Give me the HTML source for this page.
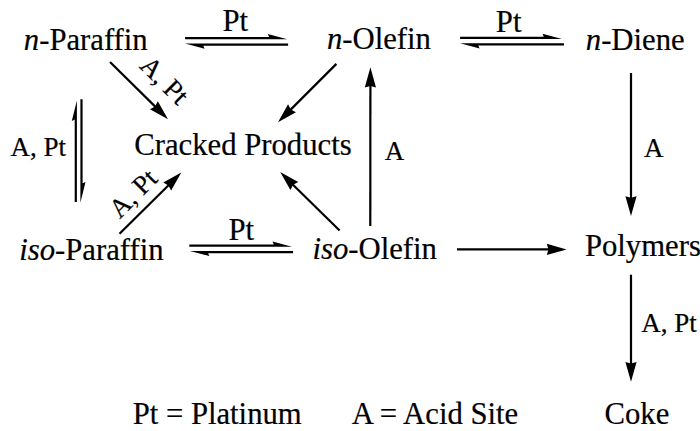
<!DOCTYPE html>
<html><head><meta charset="utf-8"><style>
html,body{margin:0;padding:0;background:#fff;overflow:hidden;}
svg{display:block;}
text{font-family:"Liberation Serif", serif;fill:#000;stroke:#000;stroke-width:0.2px;}
</style></head><body>
<svg width="700" height="431" viewBox="0 0 700 431">
<text x="23.85" y="49.50" font-size="30.7"><tspan font-style="italic">n</tspan>-Paraffin</text>
<text x="327.00" y="49.30" font-size="30.7"><tspan font-style="italic">n</tspan>-Olefin</text>
<text x="585.80" y="49.70" font-size="30.7"><tspan font-style="italic">n</tspan>-Diene</text>
<text x="134.30" y="155.10" font-size="30.7">Cracked Products</text>
<text x="19.25" y="260.40" font-size="30.7"><tspan font-style="italic">iso</tspan>-Paraffin</text>
<text x="312.50" y="258.60" font-size="30.7"><tspan font-style="italic">iso</tspan>-Olefin</text>
<text x="584.90" y="255.70" font-size="30.7">Polymers</text>
<text x="604.50" y="423.70" font-size="30.7">Coke</text>
<text x="132.65" y="424.40" font-size="30.7">Pt = Platinum</text>
<text x="351.70" y="424.40" font-size="30.7">A = Acid Site</text>
<text x="222.55" y="30.50" font-size="30.7">Pt</text>
<text x="495.85" y="31.50" font-size="30.7">Pt</text>
<text x="228.40" y="240.10" font-size="30.7">Pt</text>
<text x="10.50" y="156.40" font-size="27">A, Pt</text>
<text x="384.80" y="159.70" font-size="27">A</text>
<text x="644.05" y="157.00" font-size="27">A</text>
<text x="641.20" y="331.80" font-size="27">A, Pt</text>
<polygon points="185.10,36.95 269.10,36.95 267.80,34.05 287.30,39.15 185.10,39.15"/>
<polygon points="288.10,45.80 203.30,45.80 204.60,48.70 185.10,43.60 288.10,43.60"/>
<polygon points="460.10,36.70 543.80,36.70 542.50,33.80 562.00,38.90 460.10,38.90"/>
<polygon points="564.00,45.50 478.30,45.50 479.60,48.40 460.10,43.30 564.00,43.30"/>
<polygon points="189.30,244.50 273.80,244.50 272.50,241.60 292.00,246.70 189.30,246.70"/>
<polygon points="293.10,253.20 208.10,253.20 209.40,256.10 189.90,251.00 293.10,251.00"/>
<polygon points="74.70,202.10 74.70,119.60 71.80,120.90 76.90,100.60 76.90,202.10"/>
<polygon points="82.60,99.20 82.60,183.30 85.50,182.00 80.40,202.80 80.40,99.20"/>
<line x1="110.00" y1="62.00" x2="155.75" y2="107.12" stroke="#000" stroke-width="2.2"/>
<polygon points="168.00,119.20 149.97,109.28 155.04,106.42 157.83,101.31"/>
<line x1="336.40" y1="63.90" x2="290.16" y2="110.14" stroke="#000" stroke-width="2.2"/>
<polygon points="278.00,122.30 288.04,104.34 290.87,109.43 295.96,112.26"/>
<line x1="119.50" y1="233.80" x2="169.08" y2="184.70" stroke="#000" stroke-width="2.2"/>
<polygon points="181.30,172.60 171.17,190.51 168.37,185.41 163.29,182.55"/>
<line x1="339.60" y1="230.50" x2="292.47" y2="184.16" stroke="#000" stroke-width="2.2"/>
<polygon points="280.20,172.10 298.25,181.99 293.18,184.86 290.39,189.97"/>
<line x1="370.30" y1="226.00" x2="370.39" y2="84.90" stroke="#000" stroke-width="2.2"/>
<polygon points="370.40,67.30 375.99,87.50 370.39,85.90 364.79,87.50"/>
<line x1="631.00" y1="73.00" x2="631.00" y2="198.80" stroke="#000" stroke-width="2.2"/>
<polygon points="631.00,216.00 625.40,196.20 631.00,197.80 636.60,196.20"/>
<line x1="631.00" y1="274.70" x2="631.00" y2="364.50" stroke="#000" stroke-width="2.2"/>
<polygon points="631.00,381.70 625.40,361.90 631.00,363.50 636.60,361.90"/>
<line x1="457.00" y1="249.40" x2="549.40" y2="249.40" stroke="#000" stroke-width="2.2"/>
<polygon points="566.60,249.40 546.80,255.00 548.40,249.40 546.80,243.80"/>
<text font-size="27" transform="translate(138.5,67) rotate(45)">A, Pt</text>
<text font-size="27" transform="translate(119.7,219.5) rotate(-45)">A, Pt</text>
</svg>
</body></html>
